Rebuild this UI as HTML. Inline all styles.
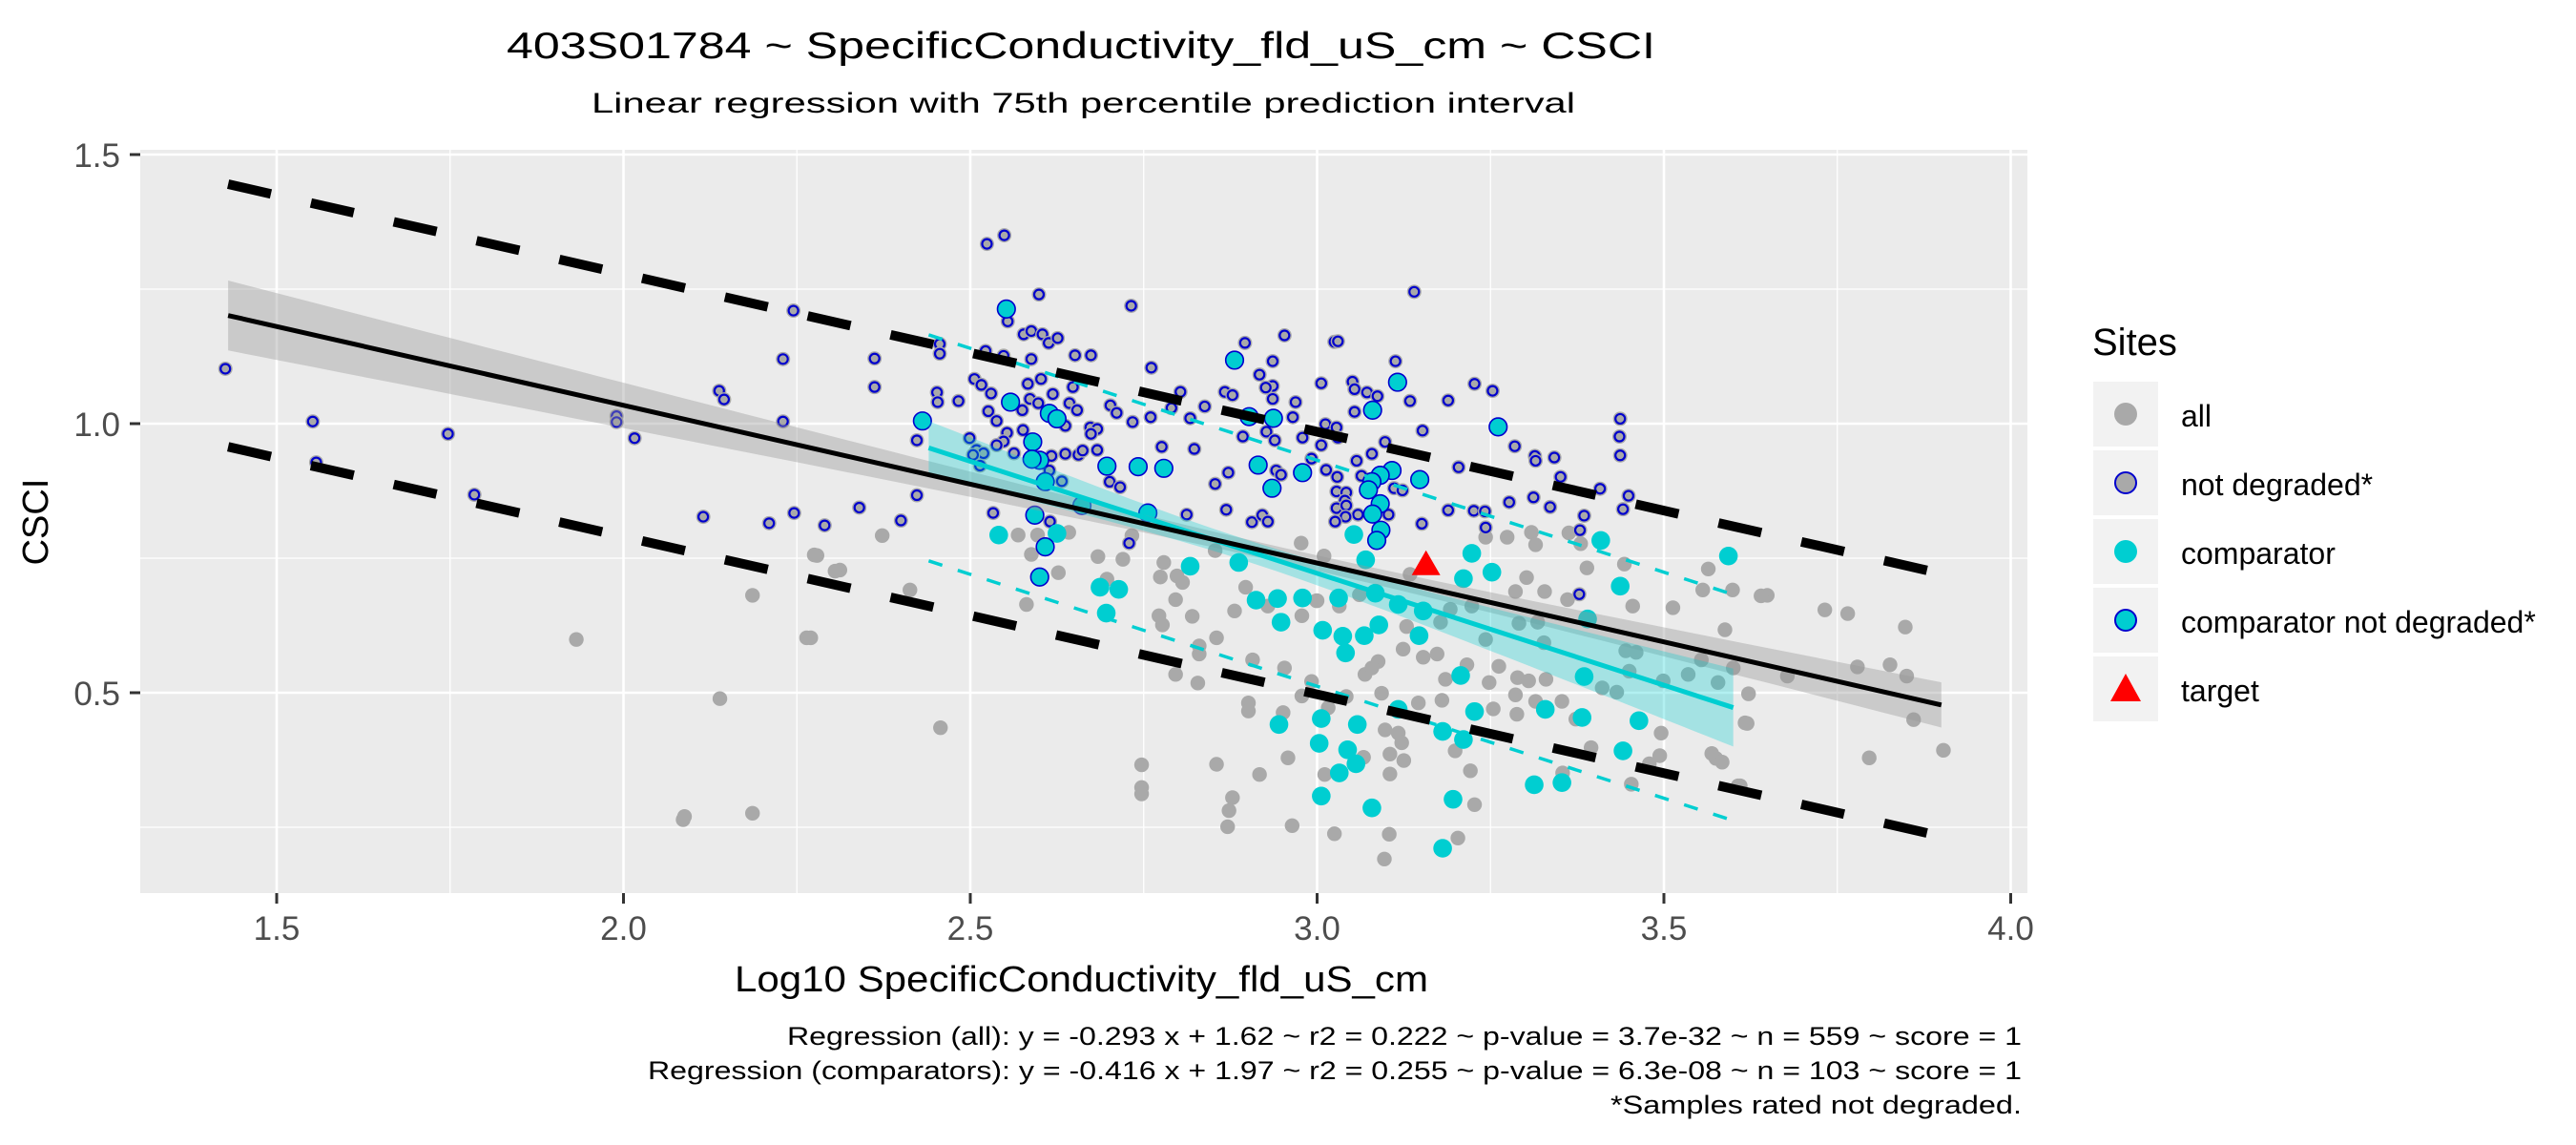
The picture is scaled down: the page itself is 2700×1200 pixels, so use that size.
<!DOCTYPE html>
<html><head><meta charset="utf-8"><style>
html,body{margin:0;padding:0;background:#fff;}
svg{display:block;font-family:"Liberation Sans",Arial,sans-serif;}
</style></head><body>
<svg id="chart" width="2700" height="1200" viewBox="0 0 2700 1200" xmlns="http://www.w3.org/2000/svg">
<rect x="0" y="0" width="2700" height="1200" fill="#fff"/>
<text x="531" y="61" font-size="39" textLength="1204" lengthAdjust="spacingAndGlyphs" fill="#000">403S01784 ~ SpecificConductivity_fld_uS_cm ~ CSCI</text>
<text x="620" y="118" font-size="30" textLength="1031" lengthAdjust="spacingAndGlyphs" fill="#000">Linear regression with 75th percentile prediction interval</text>
<rect x="147" y="157" width="1978" height="779" fill="#EBEBEB"/>
<g id="grid"></g>
<g id="marks"></g>
<g id="axes"></g>
<text x="770" y="1039" font-size="38" textLength="727" lengthAdjust="spacingAndGlyphs" fill="#000">Log10 SpecificConductivity_fld_uS_cm</text>
<text transform="translate(50,547) rotate(-90)" text-anchor="middle" font-size="38" fill="#000">CSCI</text>
<g>
<text x="2193" y="372" font-size="40" fill="#000">Sites</text>
<rect x="2194" y="400" width="68" height="68" fill="#F2F2F2"/>
<circle cx="2228" cy="434" r="12" fill="#A9A9A9"/>
<text x="2286" y="447" font-size="32" fill="#000">all</text>
<rect x="2194" y="472" width="68" height="68" fill="#F2F2F2"/>
<circle cx="2228" cy="506" r="11" fill="#A9A9A9" stroke="#0000CD" stroke-width="2"/>
<text x="2286" y="519" font-size="32" fill="#000">not degraded*</text>
<rect x="2194" y="544" width="68" height="68" fill="#F2F2F2"/>
<circle cx="2228" cy="578" r="12" fill="#00CED1"/>
<text x="2286" y="591" font-size="32" fill="#000">comparator</text>
<rect x="2194" y="616" width="68" height="68" fill="#F2F2F2"/>
<circle cx="2228" cy="650" r="11" fill="#00CED1" stroke="#0000CD" stroke-width="2"/>
<text x="2286" y="663" font-size="32" fill="#000">comparator not degraded*</text>
<rect x="2194" y="688" width="68" height="68" fill="#F2F2F2"/>
<polygon points="2228,706 2244,735 2212,735" fill="#FF0000"/>
<text x="2286" y="735" font-size="32" fill="#000">target</text>
</g>
<text x="825" y="1095" font-size="27" textLength="1294" lengthAdjust="spacingAndGlyphs" fill="#000">Regression (all): y = -0.293 x + 1.62 ~ r2 = 0.222 ~ p-value = 3.7e-32 ~ n = 559 ~ score = 1</text>
<text x="679" y="1131" font-size="27" textLength="1440" lengthAdjust="spacingAndGlyphs" fill="#000">Regression (comparators): y = -0.416 x + 1.97 ~ r2 = 0.255 ~ p-value = 6.3e-08 ~ n = 103 ~ score = 1</text>
<text x="1688" y="1167" font-size="27" textLength="431" lengthAdjust="spacingAndGlyphs" fill="#000">*Samples rated not degraded.</text>
</svg>
<script>
const xTicks = [1.5, 2.0, 2.5, 3.0, 3.5, 4.0];
const xTickLabels = ["1.5", "2.0", "2.5", "3.0", "3.5", "4.0"];
const xMinor = [1.75, 2.25, 2.75, 3.25, 3.75];
const yTicks = [0.5, 1.0, 1.5];
const yTickLabels = ["0.5", "1.0", "1.5"];
const yMinor = [0.25, 0.75, 1.25];
const regAll = [-0.293, 1.62];
const regAllRange = [1.43, 3.90];
const regAllPI = 0.244;
const regComp = [-0.416, 1.97];
const regCompRange = [2.44, 3.60];
const regCompPI = 0.21;
const target = [3.157, 0.738];
const grayPts = [
[1.932,0.599],[2.086,0.264],[2.088,0.270],[2.186,0.276],[2.139,0.489],[2.186,0.681],[2.264,0.602],[2.279,0.755],[2.312,0.728],
[3.732,0.654],[3.765,0.647],[3.796,0.379],[3.848,0.622],[3.850,0.531],[3.860,0.450],[3.903,0.393],[3.779,0.548],[3.649,0.681],[3.620,0.443],[3.610,0.327],[3.575,0.378],[3.826,0.552],
[2.373,0.792],[2.569,0.793],[2.597,0.793],[2.642,0.798],[2.977,0.778],[2.733,0.792],
[3.274,0.789],[3.309,0.798],[3.363,0.797],[3.380,0.777],[3.315,0.775],[3.243,0.789],
[2.275,0.756],[2.305,0.726],[2.413,0.691],[2.270,0.602],[2.457,0.435],[2.588,0.757],[2.627,0.723],[2.581,0.664],[2.684,0.753],[2.720,0.748],[2.697,0.711],[2.779,0.742],[2.774,0.715],[2.798,0.717],[2.806,0.705],[2.796,0.673],[2.772,0.643],[2.777,0.626],[2.820,0.642],[2.830,0.587],[2.830,0.572],[2.855,0.602],[2.796,0.534],[2.828,0.518],[2.907,0.561],[2.953,0.546],[2.992,0.521],[2.978,0.494],[2.901,0.481],[2.901,0.466],[2.951,0.463],[2.897,0.696],[2.881,0.652],[2.929,0.661],[2.978,0.643],[3.000,0.671],[3.016,0.472],[2.853,0.764],[2.747,0.366],[2.747,0.324],[2.747,0.312],[2.855,0.367],[2.878,0.305],[2.873,0.281],[2.871,0.251],[2.917,0.348],[2.958,0.379],[2.964,0.253],[3.011,0.348],[3.025,0.238],
[3.010,0.754],[3.302,0.714],[3.328,0.688],[3.286,0.688],[3.361,0.673],[3.455,0.661],[3.513,0.658],[3.564,0.730],[3.556,0.691],[3.599,0.691],[3.640,0.680],[3.443,0.739],[3.389,0.732],[3.588,0.617],[2.999,0.671],[3.032,0.661],[3.061,0.682],[3.134,0.720],[3.192,0.655],[3.223,0.661],[3.243,0.599],[3.291,0.629],[3.318,0.631],[3.327,0.593],[3.124,0.581],[3.178,0.631],[3.129,0.623],[3.153,0.566],[3.173,0.572],[3.088,0.558],[3.069,0.534],[3.079,0.546],[3.185,0.525],[3.216,0.552],[3.248,0.519],[3.262,0.549],[3.289,0.528],[3.305,0.522],[3.330,0.525],[3.286,0.496],[3.315,0.484],[3.353,0.484],[3.254,0.470],[3.288,0.460],[3.373,0.451],[3.411,0.509],[3.432,0.501],[3.445,0.578],[3.460,0.575],[3.499,0.522],[3.535,0.534],[3.578,0.519],[3.600,0.546],[3.622,0.498],[3.678,0.531],[3.496,0.425],[3.569,0.387],[3.584,0.371],[3.479,0.368],[3.494,0.383],[3.395,0.398],[3.453,0.330],[3.607,0.327],[3.617,0.444],[3.354,0.351],[3.221,0.355],[3.227,0.292],[3.203,0.230],[3.104,0.237],[3.097,0.191],[3.105,0.349],[3.067,0.380],[3.042,0.493],[3.093,0.499],[3.146,0.481],[3.180,0.486],[3.098,0.431],[3.117,0.425],[3.122,0.407],[3.105,0.386],[3.125,0.374],[3.199,0.392],[3.450,0.540],[3.554,0.561]
];
const ndPts = [
[1.426,1.102],[1.552,1.004],[1.557,0.928],[1.747,0.981],[1.785,0.868],[1.990,1.014],[1.990,1.003],[2.016,0.973],[2.115,0.827],[2.138,1.061],[2.145,1.045],[2.210,0.815],[2.230,1.004],[2.230,1.120],[2.245,1.210],[2.246,0.834],
[2.524,1.334],[2.549,1.350],[2.599,1.240],[2.732,1.219],[2.456,1.148],[2.456,1.130],[2.362,1.121],[2.362,1.068],[2.452,1.058],[2.453,1.040],[2.483,1.042],[2.506,1.083],[2.516,1.072],[2.530,1.056],[2.526,1.023],[2.538,1.005],[2.553,0.983],[2.548,0.967],[2.538,0.960],[2.499,0.973],[2.509,0.951],[2.519,0.945],[2.504,0.942],[2.514,0.922],[2.423,0.969],[2.423,0.867],[2.340,0.844],[2.290,0.811],[2.400,0.820],[2.533,0.834],[2.554,1.190],[2.577,1.166],[2.588,1.172],[2.604,1.166],[2.613,1.150],[2.626,1.159],[2.548,1.126],[2.522,1.135],[2.588,1.120],[2.583,1.074],[2.602,1.083],[2.619,1.055],[2.648,1.068],[2.586,1.046],[2.598,1.038],[2.575,1.025],[2.643,1.038],[2.654,1.025],[2.637,0.996],[2.576,0.988],[2.563,0.945],[2.617,0.940],[2.637,0.944],[2.656,0.942],[2.662,0.950],[2.683,0.951],[2.673,0.993],[2.683,0.990],[2.674,0.981],[2.702,1.034],[2.711,1.020],[2.734,1.003],[2.760,1.012],[2.761,1.104],[2.651,1.127],[2.674,1.127],[2.790,1.029],[2.803,1.059],[2.817,1.010],[2.838,1.032],[2.867,1.059],[2.878,1.053],[2.896,1.150],[2.953,1.164],[2.917,1.091],[2.936,1.116],[2.936,1.070],[2.926,1.067],[2.936,1.046],[2.969,1.040],[2.965,1.012],[2.893,0.976],[2.927,0.985],[2.939,0.969],[2.979,0.974],[3.006,1.075],[3.012,0.999],[3.006,0.960],[2.992,0.935],[2.941,0.913],[2.948,0.905],[3.013,0.914],[2.776,0.957],[2.823,0.953],[2.853,0.888],[2.872,0.909],[2.869,0.840],[2.906,0.817],[2.921,0.830],[2.929,0.818],[2.812,0.831],[2.701,0.892],[2.716,0.882],[2.632,0.893],[2.614,0.913],[2.615,0.818],[2.729,0.778],[3.025,1.152],
[3.140,1.245],[3.030,1.153],[3.113,1.116],[3.051,1.078],[3.054,1.064],[3.072,1.058],[3.087,1.051],[3.134,1.042],[3.189,1.043],[3.227,1.074],[3.253,1.061],[3.054,1.022],[3.028,0.993],[3.030,0.974],[3.098,0.966],[3.079,0.944],[3.057,0.931],[3.029,0.901],[3.064,0.903],[3.152,0.987],[3.285,0.958],[3.314,0.940],[3.315,0.931],[3.342,0.937],[3.351,0.901],[3.312,0.863],[3.336,0.845],[3.277,0.854],[3.189,0.839],[3.226,0.838],[3.242,0.837],[3.243,0.807],[3.151,0.814],[3.111,0.880],[3.123,0.876],[3.028,0.874],[3.042,0.872],[3.040,0.857],[3.028,0.843],[3.042,0.848],[3.059,0.831],[3.041,0.827],[3.026,0.818],[3.103,0.831],[3.437,1.009],[3.436,0.976],[3.437,0.941],[3.408,0.879],[3.449,0.866],[3.441,0.841],[3.385,0.829],[3.379,0.802],[3.204,0.919],[3.378,0.683]
];
const compPts = [
[2.541,0.793],[2.625,0.796],[3.053,0.794],[3.409,0.783],
[2.687,0.696],[2.714,0.692],[2.696,0.648],[2.817,0.735],[2.887,0.742],[2.912,0.672],[2.943,0.675],[2.979,0.676],[2.948,0.631],[3.008,0.616],[2.945,0.441],[3.006,0.452],[3.003,0.406],[3.006,0.308],
[3.223,0.759],[3.252,0.724],[3.211,0.712],[3.070,0.747],[3.031,0.676],[3.084,0.685],[3.117,0.664],[3.153,0.652],[3.089,0.626],[3.068,0.606],[3.037,0.605],[3.041,0.574],[3.147,0.606],[3.207,0.532],[3.058,0.441],[3.044,0.394],[3.056,0.368],[3.032,0.351],[3.079,0.286],[3.196,0.302],[3.181,0.211],[3.227,0.465],[3.211,0.413],[3.181,0.428],[3.117,0.469],[3.329,0.469],[3.382,0.454],[3.464,0.448],[3.441,0.392],[3.313,0.329],[3.353,0.333],[3.385,0.530],[3.437,0.698],[3.390,0.637],[3.593,0.754]
];
const cndPts = [
[2.552,1.213],[2.431,1.005],[2.558,1.040],[2.614,1.019],[2.625,1.009],[2.590,0.966],[2.600,0.932],[2.589,0.934],[2.608,0.892],[2.593,0.830],[2.697,0.921],[2.742,0.920],[2.779,0.917],[2.881,1.118],[2.902,1.013],[2.937,1.010],[2.915,0.923],[2.935,0.880],[2.979,0.909],[2.756,0.834],[2.608,0.771],[2.661,0.848],[2.600,0.715],
[3.116,1.077],[3.080,1.025],[3.261,0.994],[3.148,0.896],[3.108,0.913],[3.091,0.904],[3.079,0.892],[3.074,0.877],[3.091,0.851],[3.080,0.832],[3.092,0.802],[3.086,0.783]
];

const NS = "http://www.w3.org/2000/svg";
const PL = 147, PR = 2125, PT = 157, PB = 936;
function sx(x){ return 290 + (x - 1.5) * 727; }
function sy(y){ return 444 - (y - 1.0) * 564; }
function mk(tag, attrs, parent){
  const el = document.createElementNS(NS, tag);
  for (const k in attrs) el.setAttribute(k, attrs[k]);
  parent.appendChild(el);
  return el;
}
const grid = document.getElementById('grid');
const marks = document.getElementById('marks');
const axes = document.getElementById('axes');

xMinor.forEach(v => {
  const l = mk('line', {x1: sx(v), x2: sx(v), y1: PT, y2: PB, stroke: '#fff', 'stroke-width': 1.3}, grid);
  
  
});
yMinor.forEach(v => {
  const l = mk('line', {x1: PL, x2: PR, y1: sy(v), y2: sy(v), stroke: '#fff', 'stroke-width': 1.3}, grid);
  
  
});
xTicks.forEach((v, i) => {
  const l = mk('line', {x1: sx(v), x2: sx(v), y1: PT, y2: PB, stroke: '#fff', 'stroke-width': 2.6}, grid);
  
  
  const t = mk('line', {x1: sx(v), x2: sx(v), y1: PB, y2: PB + 11, stroke: '#333', 'stroke-width': 3}, axes);
  
  
  const tx = mk('text', {x: sx(v), y: PB + 49, 'text-anchor': 'middle', 'font-size': 35, fill: '#4D4D4D'}, axes);
  tx.textContent = xTickLabels[i];
  
  
});
yTicks.forEach((v, i) => {
  const l = mk('line', {x1: PL, x2: PR, y1: sy(v), y2: sy(v), stroke: '#fff', 'stroke-width': 2.6}, grid);
  
  
  const t = mk('line', {x1: PL - 11, x2: PL, y1: sy(v), y2: sy(v), stroke: '#333', 'stroke-width': 3}, axes);
  
  
  const tx = mk('text', {x: 126, y: sy(v) + 13, 'text-anchor': 'end', 'font-size': 35, fill: '#4D4D4D'}, axes);
  tx.textContent = yTickLabels[i];
  
  
});

// points
grayPts.forEach(p => {
  const c = mk('circle', {cx: sx(p[0]), cy: sy(p[1]), r: 7.7, fill: '#A9A9A9'}, marks);
  
  
});
ndPts.forEach(p => {
  const c = mk('circle', {cx: sx(p[0]), cy: sy(p[1]), r: 7.5, fill: '#A9A9A9'}, marks);
  
  
  const r = mk('circle', {cx: sx(p[0]), cy: sy(p[1]), r: 5, fill: 'none', stroke: '#0000CD', 'stroke-width': 2.2}, marks);
  
  
});
compPts.forEach(p => {
  const c = mk('circle', {cx: sx(p[0]), cy: sy(p[1]), r: 9.8, fill: '#00CED1'}, marks);
  
  
});
cndPts.forEach(p => {
  const c = mk('circle', {cx: sx(p[0]), cy: sy(p[1]), r: 9.3, fill: '#00CED1', stroke: '#0000CD', 'stroke-width': 1.6}, marks);
  
  
});

// ribbons
function ribbon(coef, range, c0, a, k, fill, op, name){
  const up = [], lo = [];
  const n = 60;
  for (let i = 0; i <= n; i++){
    const x = range[0] + (range[1] - range[0]) * i / n;
    const yv = coef[0] * x + coef[1];
    const hw = Math.sqrt(a + k * (x - c0) * (x - c0));
    up.push(sx(x).toFixed(1) + ',' + sy(yv + hw).toFixed(1));
    lo.unshift(sx(x).toFixed(1) + ',' + sy(yv - hw).toFixed(1));
  }
  const p = mk('polygon', {points: up.concat(lo).join(' '), fill: fill, 'fill-opacity': op}, marks);
  
  
}
ribbon(regAll, regAllRange, 2.95, 0.0002, 0.00174, '#999999', 0.4, 'confidence-band-all');
ribbon(regComp, regCompRange, 2.9, 0.0004, 0.0099, '#00CED1', 0.3, 'confidence-band-comparators');

function line(coef, range, off, stroke, w, dash, name){
  const l = mk('line', {x1: sx(range[0]), y1: sy(coef[0]*range[0] + coef[1] + off), x2: sx(range[1]), y2: sy(coef[0]*range[1] + coef[1] + off), stroke: stroke, 'stroke-width': w}, marks);
  if (dash) l.setAttribute('stroke-dasharray', dash);
  
  
}
line(regComp, regCompRange, 0, '#00CED1', 5, null, 'regression-line-comparators');
line(regComp, regCompRange, regCompPI, '#00CED1', 3.5, '15 17', 'prediction-upper-comparators');
line(regComp, regCompRange, -regCompPI, '#00CED1', 3.5, '15 17', 'prediction-lower-comparators');
line(regAll, regAllRange, 0, '#000', 5, null, 'regression-line-all');
line(regAll, regAllRange, regAllPI, '#000', 10, '46 43', 'prediction-upper-all');
line(regAll, regAllRange, -regAllPI, '#000', 10, '46 43', 'prediction-lower-all');

const tx0 = sx(target[0]), ty0 = sy(target[1]);
const tri = mk('polygon', {points: (tx0) + ',' + (ty0 - 15) + ' ' + (tx0 + 15) + ',' + (ty0 + 11) + ' ' + (tx0 - 15) + ',' + (ty0 + 11), fill: '#FF0000'}, marks);


</script>
</body></html>
